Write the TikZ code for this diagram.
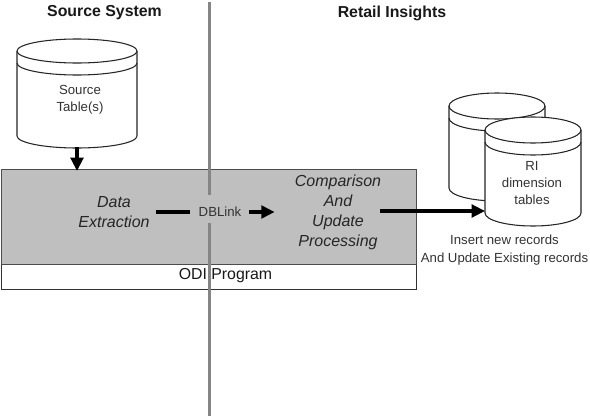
\documentclass[tikz,border=0pt]{standalone}
\usepackage{fontspec}
\setmainfont{Liberation Sans}
\usetikzlibrary{arrows.meta,calc}
\newcommand{\dbcyl}[5]{%
  \fill[white,draw=black!85,line width=0.8pt]
    (#1,#3) arc[start angle=180,end angle=360,x radius={(#2-#1)/2},y radius=#4]
    -- (#2,#5) arc[start angle=0,end angle=180,x radius={(#2-#1)/2},y radius=#4] -- cycle;
  \draw[black!85,line width=0.8pt] (#1,#3) arc[start angle=180,end angle=0,x radius={(#2-#1)/2},y radius=#4];
  \draw[black!85,line width=0.8pt] (#1,#3+12) arc[start angle=180,end angle=0,x radius={(#2-#1)/2},y radius=#4];
}
\tikzset{
  conn/.style={line width=2.4pt,draw=black,-{Triangle[length=10pt,width=9.5pt]}},
  lbl/.style={font=\fontsize{9.9pt}{11.5pt}\selectfont,text=black!80,align=center,inner sep=0pt},
  head/.style={font=\fontsize{11.9pt}{14pt}\selectfont\bfseries,text=black!90,inner sep=0pt},
  proc/.style={font=\fontsize{12pt}{14.4pt}\selectfont\itshape,text=black!85,align=center,inner sep=0pt},
  divider/.style={draw=black!48,line width=2.4pt}
}
\begin{document}
\begin{tikzpicture}[x=0.75pt,y=-0.75pt]
\useasboundingbox (0,0) rectangle (590,418);
\fill[white] (0,0) rectangle (590,418);
\draw[black!80,line width=0.7pt,fill=white] (1,264) rectangle (416,289);
\draw[black!70,line width=0.7pt,fill=black!25] (1,169) rectangle (416,264);
\dbcyl{17}{137}{51}{12}{136}
\dbcyl{449}{545}{106}{13}{188}
\dbcyl{485}{581}{130}{13}{213}
\draw[divider] (209.6,2) -- (209.6,195);
\draw[divider] (209.6,223) -- (209.6,416);
\node[head] at (104.5,12.5) {Source System};
\node[head] at (392,13.5) {Retail Insights};
\node[lbl] (src) at (80,100) {Source\\[1.5pt]Table(s)};
\node[lbl] at (532,183) {RI\\[1.5pt]dimension\\[1.5pt]tables};
\node[lbl] at (504.5,250) {Insert new records\\[1.5pt]And Update Existing records};
\node[proc] (extract) at (114,212) {Data\\[0.6pt]Extraction};
\node[lbl] (dblink) at (220,212) {DBLink};
\node[proc] (compare) at (338,212) {Comparison\\[0.6pt]And\\[0.6pt]Update\\[0.6pt]Processing};
\node[lbl,font=\fontsize{11.9pt}{14pt}\selectfont,text=black!90] (odi) at (225.5,276) {ODI Program};
\coordinate (srcb) at (77,147);
\coordinate (boxt) at (77,171);
\coordinate (tgt) at (485,211);
\draw[conn] (srcb) -- (boxt);
\draw[line width=2.4pt,draw=black] ($(extract.east)+(6,0)$) -- ($(dblink.west)+(-8,0)$);
\draw[conn] ($(dblink.east)+(7,0)$) -- ($(compare.west)+(-20,0)$);
\draw[conn] ($(compare.east |- tgt)+(-1,0)$) -- (tgt);
\end{tikzpicture}
\end{document}
